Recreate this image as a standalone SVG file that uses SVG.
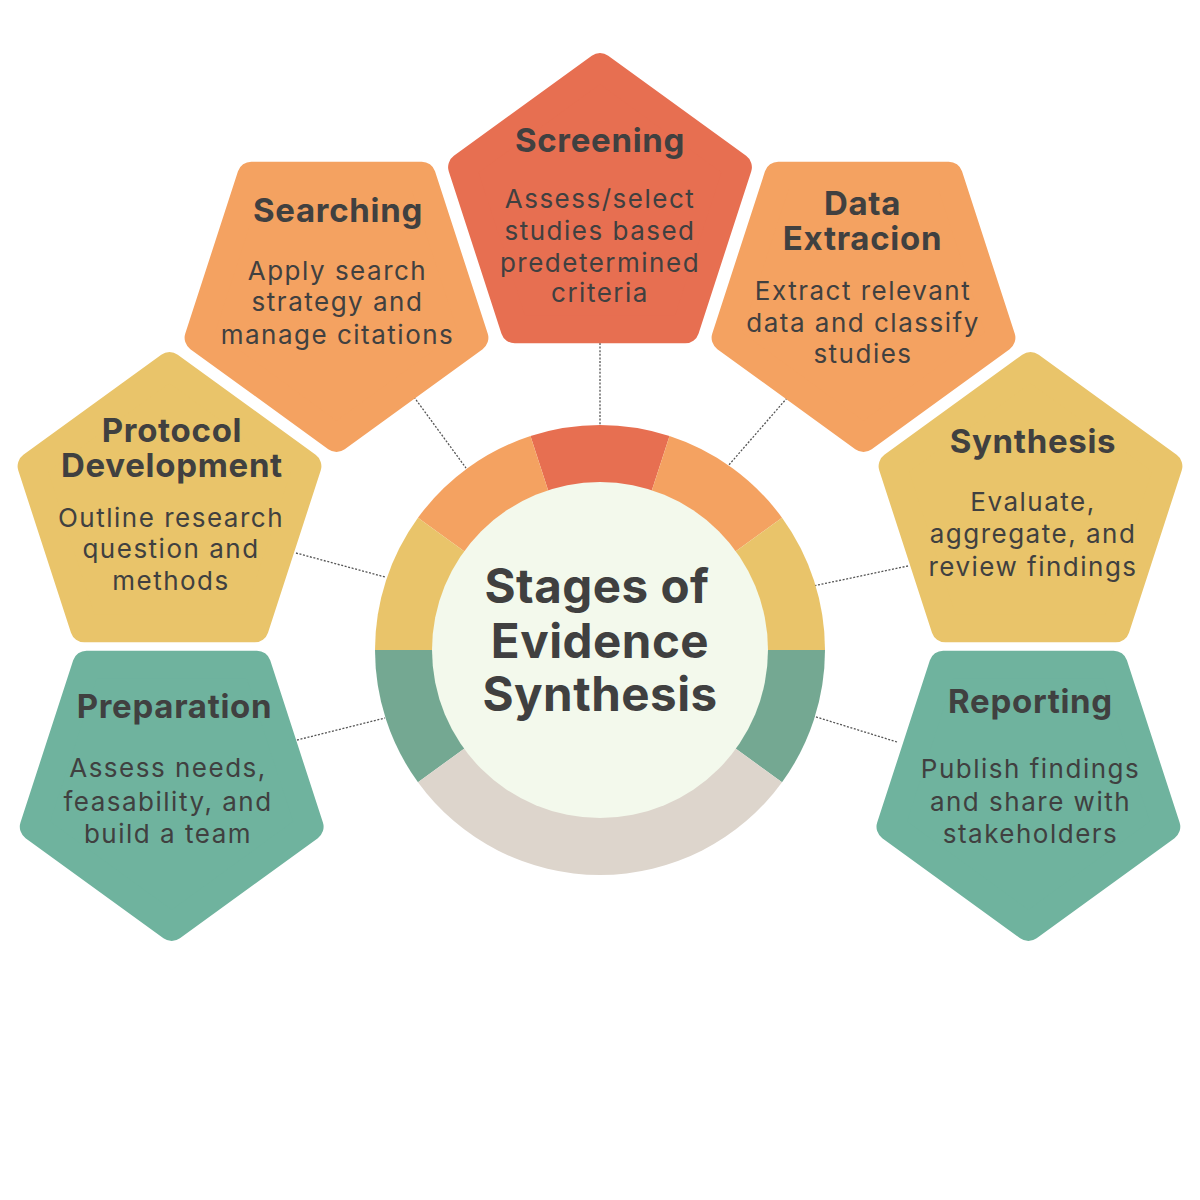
<svg xmlns="http://www.w3.org/2000/svg" width="1200" height="1200" viewBox="0 0 1200 1200">
  <style>
    .pent { stroke-width: 28; stroke-linejoin: round; }
    .red { fill: #E76F51; stroke: #E76F51; }
    .orange { fill: #F4A261; stroke: #F4A261; }
    .yellow { fill: #E9C46A; stroke: #E9C46A; }
    .green { fill: #6FB39E; stroke: #6FB39E; }
    .title { font-family: Inter, "Liberation Sans", sans-serif; font-weight: 700; font-size: 33px; letter-spacing: 0.7px; fill: #404040; text-anchor: middle; }
    .body { font-family: Inter, "Liberation Sans", sans-serif; font-weight: 400; font-size: 26px; letter-spacing: 1.5px; fill: #404040; text-anchor: middle; }
    .center { font-family: Inter, "Liberation Sans", sans-serif; font-weight: 700; font-size: 47.5px; letter-spacing: 0.5px; fill: #404040; text-anchor: middle; }
    .conn { stroke: #555555; stroke-width: 1.3; stroke-dasharray: 2 1.6; fill: none; }
  </style>
  <rect width="1200" height="1200" fill="#FFFFFF"/>

  <g id="connectors">
    <line class="conn" x1="600" y1="343" x2="600" y2="425"/>
    <line class="conn" x1="414" y1="397" x2="466" y2="468"/>
    <line class="conn" x1="787" y1="398" x2="728" y2="466"/>
    <line class="conn" x1="296" y1="553" x2="385" y2="577"/>
    <line class="conn" x1="908" y1="566" x2="813" y2="586"/>
    <line class="conn" x1="297" y1="740" x2="385" y2="718"/>
    <line class="conn" x1="897" y1="742" x2="813" y2="716"/>
  </g>

  <g id="hub">
    <path d="M600,650 L530.47,436.01 A225,225 0 0 1 669.53,436.01 Z" fill="#E76F51"/>
    <path d="M600,650 L669.53,436.01 A225,225 0 0 1 782.03,517.75 Z" fill="#F4A261"/>
    <path d="M600,650 L417.97,517.75 A225,225 0 0 1 530.47,436.01 Z" fill="#F4A261"/>
    <path d="M600,650 L782.03,517.75 A225,225 0 0 1 825,650 Z" fill="#E9C46A"/>
    <path d="M600,650 L375,650 A225,225 0 0 1 417.97,517.75 Z" fill="#E9C46A"/>
    <path d="M600,650 L825,650 A225,225 0 0 1 782.03,782.25 Z" fill="#74A892"/>
    <path d="M600,650 L417.97,782.25 A225,225 0 0 1 375,650 Z" fill="#74A892"/>
    <path d="M600,650 L782.03,782.25 A225,225 0 0 1 417.97,782.25 Z" fill="#DDD5CC"/>
    <circle cx="600" cy="650" r="168" fill="#F3F9EC"/>
    <text class="center"><tspan x="597" y="603">Stages of</tspan><tspan x="600" y="658">Evidence</tspan><tspan x="600" y="711">Synthesis</tspan></text>
  </g>

  <g id="preparation">
    <polygon class="pent green" transform="translate(171.7,782)" points="0,145 137.9,44.8 85.2,-117.3 -85.2,-117.3 -137.9,44.8"/>
    <text class="title" x="174.5" y="718">Preparation</text>
    <text class="body"><tspan x="168" y="777">Assess needs,</tspan><tspan x="168" y="810.5">feasability, and</tspan><tspan x="168" y="843">build a team</tspan></text>
  </g>

  <g id="protocol-development">
    <polygon class="pent yellow" transform="translate(169.5,511)" points="0,-145 137.9,-44.8 85.2,117.3 -85.2,117.3 -137.9,-44.8"/>
    <text class="title"><tspan x="172" y="441.5">Protocol</tspan><tspan x="172" y="477">Development</tspan></text>
    <text class="body"><tspan x="171" y="526.5">Outline research</tspan><tspan x="171" y="558">question and</tspan><tspan x="171" y="590">methods</tspan></text>
  </g>

  <g id="searching">
    <polygon class="pent orange" transform="translate(336.5,293)" points="0,145 137.9,44.8 85.2,-117.3 -85.2,-117.3 -137.9,44.8"/>
    <text class="title" x="338" y="221.5">Searching</text>
    <text class="body"><tspan x="337.5" y="280">Apply search</tspan><tspan x="337.5" y="311">strategy and</tspan><tspan x="337.5" y="343.5">manage citations</tspan></text>
  </g>

  <g id="screening">
    <polygon class="pent red" transform="translate(600,212)" points="0,-145 137.9,-44.8 85.2,117.3 -85.2,117.3 -137.9,-44.8"/>
    <text class="title" x="600" y="152">Screening</text>
    <text class="body"><tspan x="600" y="208">Assess/select</tspan><tspan x="600" y="239.5">studies based</tspan><tspan x="600" y="271.5">predetermined</tspan><tspan x="600" y="302">criteria</tspan></text>
  </g>

  <g id="data-extraction">
    <polygon class="pent orange" transform="translate(863.5,293)" points="0,145 137.9,44.8 85.2,-117.3 -85.2,-117.3 -137.9,44.8"/>
    <text class="title"><tspan x="862.5" y="215">Data</tspan><tspan x="862.5" y="250">Extracion</tspan></text>
    <text class="body"><tspan x="863" y="300">Extract relevant</tspan><tspan x="863" y="331.5">data and classify</tspan><tspan x="863" y="362.5">studies</tspan></text>
  </g>

  <g id="synthesis">
    <polygon class="pent yellow" transform="translate(1030.5,511)" points="0,-145 137.9,-44.8 85.2,117.3 -85.2,117.3 -137.9,-44.8"/>
    <text class="title" x="1033" y="452.5">Synthesis</text>
    <text class="body"><tspan x="1033" y="510.5">Evaluate,</tspan><tspan x="1033" y="543">aggregate, and</tspan><tspan x="1033" y="576">review findings</tspan></text>
  </g>

  <g id="reporting">
    <polygon class="pent green" transform="translate(1028.4,782)" points="0,145 137.9,44.8 85.2,-117.3 -85.2,-117.3 -137.9,44.8"/>
    <text class="title" x="1030.5" y="713">Reporting</text>
    <text class="body"><tspan x="1030.5" y="778">Publish findings</tspan><tspan x="1030.5" y="811">and share with</tspan><tspan x="1030.5" y="843">stakeholders</tspan></text>
  </g>
</svg>
